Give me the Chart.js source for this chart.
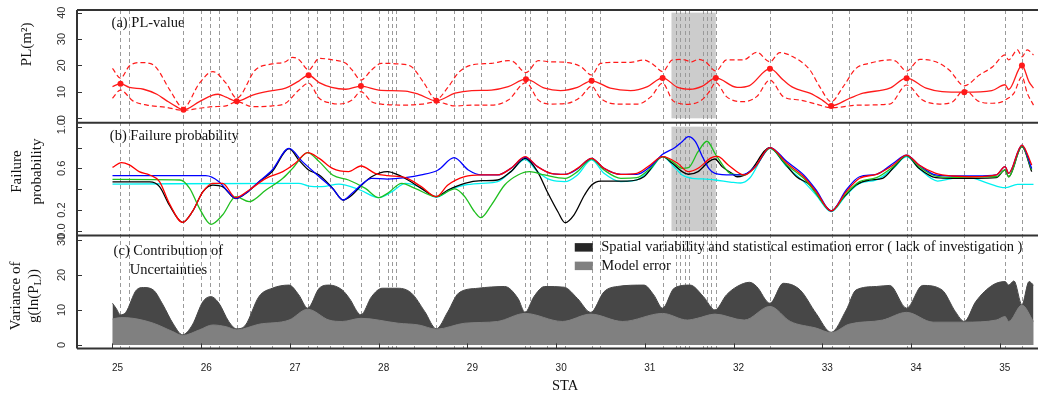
<!DOCTYPE html>
<html>
<head>
<meta charset="utf-8">
<script src="https://cdn.jsdelivr.net/npm/chart.js@4.4.0/dist/chart.umd.min.js"></script>
<style>
  html, body { margin: 0; padding: 0; background: #fff; overflow: hidden; }
  #wrap { width: 1038px; height: 397px; overflow: hidden; }
  canvas { display: block; }
</style>
</head>
<body>
<div id="wrap"><canvas id="chart" width="1057" height="397"></canvas></div>
<script>
// x tick labels (STA)
const staTicks = [25, 26, 27, 28, 29, 30, 31, 32, 33, 34, 35];

// borehole stations (vertical dashed lines) and the shaded stretch
const boreholeSta = [25.09, 25.19, 25.79, 26.00, 26.10, 26.20, 26.40, 26.55, 26.80, 27.00,
  27.20, 27.30, 27.45, 27.60, 27.80, 28.00, 28.10, 28.15, 28.20, 28.40,
  28.65, 28.85, 28.95, 29.15, 29.65, 29.70, 29.90, 30.10, 30.40, 30.50,
  31.20, 31.35, 31.40, 31.45, 31.50, 31.65, 31.70, 31.75, 31.80, 32.41,
  33.11, 33.30, 33.95, 34.00, 34.60, 35.06, 35.25];
const shadeSta = [31.30, 31.80];

// (a) PL-value
const plPointSta = [25.09, 25.80, 26.40, 27.21, 27.80, 28.65, 29.66, 30.40, 31.20, 31.80, 32.41, 33.10, 33.95, 34.60, 35.25];
const plPoint = [13.1, 3.2, 6.5, 16.3, 12.2, 6.6, 14.8, 14.2, 15.3, 15.3, 18.8, 4.7, 15.2, 9.9, 20.0];

const plMeanSta = [25.00, 25.09, 25.19, 25.35, 25.50, 25.60, 25.72, 25.80, 25.98, 26.13,
  26.19, 26.28, 26.40, 26.58, 26.80, 26.95, 27.10, 27.21, 27.33, 27.47,
  27.63, 27.80, 28.00, 28.30, 28.45, 28.65, 28.86, 29.05, 29.27, 29.46,
  29.66, 29.87, 30.05, 30.24, 30.40, 30.61, 30.84, 31.03, 31.20, 31.37,
  31.51, 31.65, 31.80, 32.04, 32.18, 32.41, 32.56, 32.67, 32.86, 33.00,
  33.10, 33.31, 33.46, 33.76, 33.95, 34.17, 34.35, 34.60, 34.91, 35.06,
  35.10, 35.25, 35.33, 35.38];
const plMean = [12.0, 13.1, 11.7, 11.0, 9.1, 6.9, 4.4, 3.2, 6.3, 8.8,
  9.1, 8.0, 6.5, 8.8, 10.5, 11.4, 14.1, 16.3, 13.5, 11.7,
  11.0, 12.2, 10.7, 10.3, 9.1, 6.6, 9.5, 10.5, 10.7, 12.0,
  14.8, 11.4, 10.5, 11.7, 14.2, 11.4, 10.5, 12.0, 15.3, 11.7,
  11.0, 12.2, 15.3, 11.7, 12.4, 18.8, 14.5, 11.7, 9.5, 6.9,
  4.7, 7.6, 9.5, 11.4, 15.2, 11.4, 10.1, 9.9, 10.5, 12.7,
  10.9, 20.0, 13.8, 11.4];

const plUpperSta = [25.00, 25.09, 25.19, 25.31, 25.42, 25.50, 25.65, 25.80, 25.98, 26.13,
  26.28, 26.40, 26.61, 26.80, 26.95, 27.03, 27.10, 27.21, 27.33, 27.48,
  27.63, 27.70, 27.80, 27.92, 28.03, 28.22, 28.37, 28.50, 28.65, 28.78,
  28.90, 29.05, 29.27, 29.46, 29.51, 29.66, 29.80, 29.94, 30.13, 30.28,
  30.40, 30.50, 30.70, 30.84, 30.99, 31.10, 31.20, 31.31, 31.42, 31.53,
  31.60, 31.68, 31.80, 31.92, 32.11, 32.26, 32.41, 32.52, 32.67, 32.86,
  32.97, 33.10, 33.23, 33.38, 33.53, 33.76, 33.83, 33.95, 34.10, 34.28,
  34.43, 34.60, 34.77, 34.92, 35.06, 35.10, 35.20, 35.25, 35.31, 35.38];
const plUpper = [18.9, 15.2, 19.8, 21.1, 20.8, 18.9, 10.5, 4.0, 13.3, 17.7,
  13.3, 7.6, 18.3, 20.6, 21.4, 23.1, 22.3, 18.3, 22.7, 22.1,
  20.8, 18.3, 14.5, 18.3, 20.8, 20.6, 19.5, 13.9, 7.2, 11.7,
  17.3, 20.2, 20.8, 21.8, 21.6, 17.3, 21.8, 21.4, 21.1, 19.5,
  16.4, 20.8, 21.2, 21.2, 22.1, 20.2, 17.7, 22.1, 22.3, 21.4,
  22.3, 21.5, 17.9, 22.1, 22.1, 25.0, 21.4, 24.9, 23.3, 18.3,
  12.0, 6.3, 11.7, 18.9, 20.8, 22.1, 21.6, 17.9, 22.3, 21.4,
  18.3, 12.3, 16.4, 19.5, 24.0, 22.1, 25.9, 23.3, 25.9, 24.0];

const plLowerSta = [25.00, 25.09, 25.23, 25.39, 25.60, 25.80, 25.98, 26.13, 26.28, 26.40,
  26.58, 26.80, 26.95, 27.10, 27.21, 27.33, 27.47, 27.55, 27.70, 27.80,
  27.92, 28.03, 28.30, 28.49, 28.65, 28.86, 29.05, 29.27, 29.46, 29.66,
  29.80, 29.94, 30.13, 30.28, 30.40, 30.50, 30.70, 30.92, 31.07, 31.20,
  31.31, 31.38, 31.49, 31.64, 31.72, 31.80, 31.92, 32.11, 32.26, 32.41,
  32.56, 32.75, 32.93, 33.10, 33.42, 33.76, 33.95, 34.13, 34.32, 34.47,
  34.60, 34.77, 34.92, 35.03, 35.06, 35.16, 35.25, 35.31, 35.38];
const plLower = [7.6, 10.7, 6.6, 5.0, 4.2, 3.0, 3.8, 4.4, 4.7, 6.3,
  4.4, 4.7, 5.7, 10.7, 13.3, 7.6, 5.7, 5.4, 6.9, 10.1,
  6.3, 5.4, 5.0, 5.4, 6.2, 4.7, 5.0, 5.0, 6.9, 13.5,
  6.9, 5.4, 5.7, 8.2, 12.2, 7.6, 5.4, 5.4, 8.2, 13.3,
  6.9, 5.7, 5.3, 6.9, 9.8, 13.5, 8.2, 6.3, 8.2, 14.5,
  8.2, 6.9, 5.4, 4.0, 5.0, 5.4, 12.6, 6.9, 5.4, 6.3,
  10.8, 6.3, 5.7, 6.3, 6.9, 9.5, 15.8, 9.5, 5.0];

// (b) Failure probability
const pfBlackSta = [25.00, 25.42, 25.53, 25.64, 25.79, 25.90, 26.02, 26.13, 26.24, 26.39,
  26.50, 26.65, 26.80, 26.99, 27.10, 27.21, 27.33, 27.48, 27.60, 27.70,
  27.81, 27.92, 28.10, 28.22, 28.33, 28.48, 28.65, 28.78, 28.97, 29.16,
  29.34, 29.49, 29.65, 29.79, 29.90, 30.02, 30.10, 30.20, 30.32, 30.40,
  30.50, 30.80, 30.99, 31.20, 31.31, 31.42, 31.49, 31.60, 31.72, 31.79,
  31.87, 31.98, 32.04, 32.18, 32.41, 32.56, 32.71, 32.86, 32.97, 33.10,
  33.23, 33.38, 33.53, 33.68, 33.83, 33.95, 34.09, 34.28, 34.47, 34.73,
  34.96, 35.06, 35.10, 35.25, 35.36];
const pfBlack = [0.47, 0.47, 0.425, 0.25, 0.083, 0.185, 0.377, 0.44, 0.425, 0.31,
  0.36, 0.47, 0.57, 0.79, 0.68, 0.585, 0.537, 0.41, 0.297, 0.345,
  0.441, 0.52, 0.569, 0.537, 0.489, 0.409, 0.329, 0.393, 0.457, 0.482,
  0.489, 0.569, 0.696, 0.569, 0.377, 0.185, 0.08, 0.153, 0.345, 0.441,
  0.479, 0.479, 0.52, 0.712, 0.649, 0.569, 0.544, 0.569, 0.665, 0.69,
  0.617, 0.553, 0.52, 0.569, 0.80, 0.665, 0.52, 0.441, 0.313, 0.192,
  0.313, 0.441, 0.489, 0.505, 0.633, 0.722, 0.601, 0.511, 0.505, 0.505,
  0.511, 0.585, 0.52, 0.808, 0.569];

const pfRedSta = [25.00, 25.10, 25.19, 25.30, 25.42, 25.53, 25.64, 25.79, 25.90, 26.02,
  26.13, 26.24, 26.39, 26.54, 26.73, 26.92, 27.06, 27.20, 27.33, 27.48,
  27.66, 27.80, 27.96, 28.10, 28.30, 28.48, 28.65, 28.78, 28.97, 29.16,
  29.34, 29.49, 29.65, 29.79, 29.94, 30.10, 30.24, 30.40, 30.54, 30.73,
  30.91, 31.06, 31.20, 31.37, 31.49, 31.60, 31.75, 31.82, 31.94, 32.12,
  32.23, 32.41, 32.60, 32.79, 32.93, 33.10, 33.27, 33.42, 33.61, 33.80,
  33.95, 34.09, 34.28, 34.47, 34.73, 34.96, 35.06, 35.10, 35.25, 35.36];
const pfRed = [0.61, 0.655, 0.633, 0.569, 0.537, 0.473, 0.265, 0.083, 0.185, 0.377,
  0.457, 0.457, 0.32, 0.393, 0.505, 0.569, 0.649, 0.751, 0.696, 0.60,
  0.569, 0.623, 0.553, 0.53, 0.511, 0.425, 0.329, 0.441, 0.521, 0.537,
  0.537, 0.60, 0.712, 0.617, 0.553, 0.543, 0.60, 0.696, 0.60, 0.543,
  0.553, 0.633, 0.712, 0.649, 0.569, 0.601, 0.703, 0.715, 0.633, 0.537,
  0.60, 0.80, 0.649, 0.52, 0.377, 0.192, 0.377, 0.505, 0.543, 0.633,
  0.728, 0.633, 0.553, 0.527, 0.52, 0.537, 0.617, 0.553, 0.824, 0.633];

const pfGreenSta = [25.00, 25.76, 25.87, 25.98, 26.11, 26.24, 26.39, 26.54, 26.73, 26.92,
  27.03, 27.20, 27.33, 27.48, 27.66, 27.85, 28.00, 28.10, 28.26, 28.41,
  28.65, 28.86, 28.97, 29.08, 29.15, 29.27, 29.42, 29.57, 29.70, 29.87,
  30.10, 30.24, 30.40, 30.54, 30.73, 30.91, 31.06, 31.20, 31.31, 31.42,
  31.49, 31.60, 31.70, 31.79, 31.89, 31.96, 32.12, 32.26, 32.41, 32.60,
  32.79, 32.93, 33.10, 33.27, 33.42, 33.61, 33.80, 33.95, 34.09, 34.28,
  34.47, 34.73, 34.96, 35.06, 35.10, 35.25, 35.36];
const pfGreen = [0.495, 0.489, 0.409, 0.217, 0.064, 0.153, 0.329, 0.281, 0.393, 0.505,
  0.60, 0.751, 0.665, 0.537, 0.489, 0.409, 0.32, 0.361, 0.457, 0.409,
  0.329, 0.403, 0.329, 0.185, 0.128, 0.249, 0.441, 0.537, 0.569, 0.537,
  0.505, 0.569, 0.69, 0.585, 0.505, 0.511, 0.60, 0.712, 0.665, 0.601,
  0.607, 0.76, 0.86, 0.745, 0.617, 0.553, 0.537, 0.633, 0.792, 0.633,
  0.505, 0.361, 0.192, 0.361, 0.473, 0.511, 0.617, 0.722, 0.617, 0.527,
  0.514, 0.52, 0.52, 0.585, 0.52, 0.808, 0.585];

const pfBlueSta = [25.00, 26.05, 26.20, 26.32, 26.39, 26.50, 26.65, 26.80, 26.99, 27.14,
  27.33, 27.48, 27.60, 27.70, 27.81, 27.92, 28.10, 28.30, 28.48, 28.67,
  28.85, 29.01, 29.16, 29.34, 29.49, 29.65, 29.79, 29.94, 30.10, 30.24,
  30.40, 30.54, 30.73, 30.91, 31.06, 31.20, 31.34, 31.42, 31.49, 31.57,
  31.64, 31.72, 31.79, 31.98, 32.12, 32.26, 32.41, 32.60, 32.79, 32.93,
  33.10, 33.27, 33.42, 33.61, 33.80, 33.95, 34.09, 34.28, 34.47, 34.73,
  34.96, 35.06, 35.10, 35.25, 35.36];
const pfBlue = [0.53, 0.53, 0.473, 0.361, 0.313, 0.361, 0.473, 0.585, 0.792, 0.665,
  0.521, 0.409, 0.297, 0.361, 0.447, 0.505, 0.498, 0.511, 0.537, 0.585,
  0.703, 0.585, 0.537, 0.537, 0.60, 0.706, 0.617, 0.553, 0.543, 0.595,
  0.696, 0.60, 0.543, 0.543, 0.617, 0.735, 0.80, 0.856, 0.904, 0.856,
  0.729, 0.601, 0.553, 0.537, 0.543, 0.633, 0.80, 0.665, 0.537, 0.393,
  0.192, 0.393, 0.52, 0.543, 0.649, 0.728, 0.633, 0.537, 0.527, 0.527,
  0.537, 0.617, 0.553, 0.824, 0.60];

const pfCyanSta = [25.00, 27.10, 27.21, 27.36, 27.55, 27.79, 28.00, 28.15, 28.30, 28.45,
  28.65, 28.82, 28.97, 29.16, 29.34, 29.49, 29.65, 29.79, 29.94, 30.10,
  30.24, 30.40, 30.54, 30.73, 30.91, 31.06, 31.20, 31.31, 31.42, 31.53,
  31.64, 31.79, 31.98, 32.08, 32.18, 32.41, 32.60, 32.79, 32.93, 33.10,
  33.27, 33.42, 33.61, 33.80, 33.95, 34.09, 34.30, 34.47, 34.65, 34.87,
  35.06, 35.20, 35.38];
const pfCyan = [0.45, 0.457, 0.431, 0.425, 0.45, 0.393, 0.32, 0.377, 0.457, 0.425,
  0.323, 0.403, 0.441, 0.457, 0.473, 0.569, 0.687, 0.569, 0.489, 0.473,
  0.537, 0.681, 0.553, 0.473, 0.489, 0.585, 0.712, 0.633, 0.537, 0.505,
  0.499, 0.489, 0.467, 0.46, 0.505, 0.792, 0.617, 0.473, 0.345, 0.185,
  0.345, 0.457, 0.489, 0.60, 0.712, 0.60, 0.479, 0.505, 0.511, 0.457,
  0.415, 0.447, 0.447];
const pfLabelValues = [0, 0.2, 0.6, 1.0];

// (c) Contribution of uncertainties
const varTotalSta = [25.00, 25.04, 25.09, 25.15, 25.27, 25.35, 25.46, 25.57, 25.68, 25.79,
  25.90, 26.02, 26.11, 26.20, 26.31, 26.40, 26.50, 26.65, 26.80, 26.99,
  27.10, 27.20, 27.33, 27.44, 27.59, 27.67, 27.80, 27.92, 28.04, 28.22,
  28.37, 28.52, 28.65, 28.78, 28.90, 29.12, 29.42, 29.57, 29.65, 29.75,
  29.87, 30.09, 30.24, 30.39, 30.54, 30.69, 30.99, 31.10, 31.20, 31.33,
  31.51, 31.66, 31.79, 31.92, 32.04, 32.18, 32.26, 32.41, 32.56, 32.75,
  32.93, 33.10, 33.27, 33.38, 33.61, 33.76, 33.95, 34.13, 34.35, 34.50,
  34.60, 34.73, 34.92, 35.06, 35.10, 35.16, 35.25, 35.33, 35.38];
const varTotal = [11.9, 10.5, 8.6, 9.3, 15.7, 16.4, 15.7, 11.4, 6.2, 2.9,
  5.7, 12.4, 13.8, 11.9, 6.7, 4.6, 5.7, 13.8, 16.2, 17.1,
  14.3, 10.5, 16.2, 17.1, 15.7, 13.3, 8.6, 13.8, 16.2, 16.2,
  14.8, 9.5, 4.6, 9.5, 14.8, 16.2, 16.7, 13.3, 9.3, 13.8,
  16.7, 16.5, 13.3, 9.3, 15.2, 16.7, 17.1, 14.3, 10.5, 16.2,
  17.1, 13.8, 10.0, 14.3, 16.7, 17.9, 16.7, 11.9, 17.6, 15.7,
  9.0, 3.6, 10.0, 15.7, 16.7, 17.0, 10.5, 17.0, 15.7, 9.5,
  6.7, 12.4, 17.1, 18.1, 17.1, 18.3, 11.5, 18.1, 17.1];

const varModelSta = [25.00, 25.09, 25.23, 25.46, 25.68, 25.79, 25.98, 26.13, 26.28, 26.40,
  26.65, 26.99, 27.20, 27.44, 27.59, 27.80, 28.22, 28.45, 28.65, 28.97,
  29.34, 29.65, 30.07, 30.39, 30.75, 31.20, 31.48, 31.59, 31.79, 32.12,
  32.41, 32.64, 32.93, 33.10, 33.30, 33.68, 33.95, 34.25, 34.60, 34.96,
  35.06, 35.10, 35.25, 35.38];
const varModel = [7.4, 7.8, 7.6, 6.2, 3.8, 2.7, 4.3, 5.7, 5.2, 4.3,
  5.9, 7.1, 10.2, 7.1, 6.7, 7.6, 6.2, 5.7, 4.5, 6.2,
  6.7, 9.0, 6.7, 8.8, 6.7, 9.0, 7.1, 7.6, 8.8, 7.1,
  11.0, 6.7, 4.8, 3.5, 5.9, 7.1, 9.3, 6.5, 6.5, 7.1,
  8.1, 6.7, 11.4, 6.7];

const RED = '#ff1a1a';
const SERIF = '"Liberation Serif", "Times New Roman", serif';
const SANS = '"Liberation Sans", Arial, sans-serif';

function pts(xs, ys) {
  return xs.map((x, i) => ({ x: x, y: ys[i] }));
}

function line(label, xs, ys, axis, color, extra) {
  return Object.assign({
    label: label,
    data: pts(xs, ys),
    xAxisID: 'x',
    yAxisID: axis,
    borderColor: color,
    backgroundColor: color,
    borderWidth: 1.3,
    pointRadius: 0,
    cubicInterpolationMode: 'monotone',
    fill: false
  }, extra || {});
}

function vtext(ctx, str, x, y) {
  ctx.save();
  ctx.translate(x, y);
  ctx.rotate(-Math.PI / 2);
  ctx.fillText(str, 0, 0);
  ctx.restore();
}

// shading, borehole lines, frame, rotated labels, annotations and legend
const decor = {
  id: 'decor',
  beforeDatasetsDraw(chart) {
    const { ctx, chartArea: a, scales } = chart;
    const x = scales.x;
    ctx.save();
    ctx.fillStyle = '#cccccc';
    const x0 = x.getPixelForValue(shadeSta[0]);
    const x1 = x.getPixelForValue(shadeSta[1]);
    [['yPL', 0, 40], ['yPF', 0, 1]].forEach(([id, lo, hi]) => {
      const s = scales[id];
      const t = s.getPixelForValue(hi), b = s.getPixelForValue(lo);
      ctx.fillRect(x0, t, x1 - x0, b - t);
    });
    ctx.strokeStyle = '#9a9a9a';
    ctx.lineWidth = 1;
    ctx.setLineDash([4, 3]);
    boreholeSta.forEach(v => {
      const px = Math.round(x.getPixelForValue(v)) + 0.5;
      ctx.beginPath();
      ctx.moveTo(px, a.top);
      ctx.lineTo(px, a.bottom);
      ctx.stroke();
    });
    ctx.restore();
  },
  afterDraw(chart) {
    const { ctx, chartArea: a, scales } = chart;
    const x = scales.x, yPL = scales.yPL, yPF = scales.yPF, yVar = scales.yVar;
    ctx.save();

    // frame
    ctx.strokeStyle = '#333';
    ctx.lineWidth = 2;
    ctx.beginPath();
    [a.top, yPF.top, yVar.top, a.bottom].forEach(y => {
      ctx.moveTo(a.left, y);
      ctx.lineTo(a.right, y);
    });
    ctx.moveTo(a.left, a.top);
    ctx.lineTo(a.left, a.bottom);
    ctx.stroke();

    // inward tick marks
    ctx.lineWidth = 1;
    ctx.beginPath();
    [yPL, yPF, yVar].forEach(s => {
      s.ticks.forEach(t => {
        const py = Math.round(s.getPixelForValue(t.value)) + 0.5;
        ctx.moveTo(a.left, py);
        ctx.lineTo(a.left + 5, py);
      });
    });
    x.ticks.forEach(t => {
      const px = Math.round(x.getPixelForValue(t.value)) + 0.5;
      ctx.moveTo(px, a.bottom);
      ctx.lineTo(px, a.bottom - 5);
    });
    ctx.stroke();

    // rotated y tick labels
    ctx.fillStyle = '#333';
    ctx.font = '11px ' + SANS;
    ctx.textAlign = 'center';
    ctx.textBaseline = 'middle';
    yPL.ticks.forEach(t => vtext(ctx, String(t.value), 62, yPL.getPixelForValue(t.value)));
    pfLabelValues.forEach(v => vtext(ctx, v.toFixed(1), 62, yPF.getPixelForValue(v)));
    yVar.ticks.forEach(t => vtext(ctx, String(t.value), 62, yVar.getPixelForValue(t.value)));

    // y titles
    ctx.fillStyle = '#111';
    ctx.font = '15px ' + SERIF;
    vtext(ctx, 'PL(m²)', 27, yPL.getPixelForValue(28));
    vtext(ctx, 'Failure', 17.5, yPF.getPixelForValue(0.57));
    vtext(ctx, 'probability', 37, yPF.getPixelForValue(0.57));
    vtext(ctx, 'Variance of', 16, yVar.getPixelForValue(14));
    // g(ln(P_L)) with subscript
    ctx.save();
    ctx.translate(34, yVar.getPixelForValue(14));
    ctx.rotate(-Math.PI / 2);
    ctx.textAlign = 'left';
    const p1 = 'g(ln(P', p2 = 'L', p3 = '))';
    ctx.font = '15px ' + SERIF;
    const w1 = ctx.measureText(p1).width, w3 = ctx.measureText(p3).width;
    ctx.font = '10.5px ' + SERIF;
    const w2 = ctx.measureText(p2).width;
    const cx = -(w1 + w2 + w3) / 2;
    ctx.font = '15px ' + SERIF;
    ctx.fillText(p1, cx, 0);
    ctx.font = '10.5px ' + SERIF;
    ctx.fillText(p2, cx + w1, 4);
    ctx.font = '15px ' + SERIF;
    ctx.fillText(p3, cx + w1 + w2, 0);
    ctx.restore();

    // panel annotations
    ctx.font = '14.5px ' + SERIF;
    ctx.textBaseline = 'middle';
    ctx.textAlign = 'left';
    ctx.fillText('(a) PL-value', x.getPixelForValue(24.99), yPL.getPixelForValue(36));
    ctx.fillText('(b) Failure probability', x.getPixelForValue(24.97), yPF.getPixelForValue(0.91));
    ctx.textAlign = 'center';
    ctx.fillText('(c) Contribution of', x.getPixelForValue(25.63), yVar.getPixelForValue(26.7));
    ctx.fillText('Uncertainties', x.getPixelForValue(25.63), yVar.getPixelForValue(21.4));

    // legend for panel (c)
    const ds = chart.data.datasets;
    const rows = [
      { color: '#262626', text: ds.find(d => d.id === 'total').label },
      { color: '#808080', text: ds.find(d => d.id === 'model').label }
    ];
    const lx = x.getPixelForValue(30.21), ly = yVar.getPixelForValue(29.1);
    ctx.textAlign = 'left';
    rows.forEach((r, i) => {
      const top = ly + i * 18.5;
      ctx.fillStyle = r.color;
      ctx.fillRect(lx, top, 18, 8.5);
      ctx.fillStyle = '#111';
      ctx.fillText(r.text, lx + 26.5, top + 4.5);
    });
    ctx.restore();
  }
};

const chart = new Chart(document.getElementById('chart'), {
  type: 'line',
  data: {
    datasets: [
      line('PL measured', plPointSta, plPoint, 'yPL', RED,
        { showLine: true, borderWidth: 0, borderColor: 'rgba(0,0,0,0)', pointRadius: 3, pointBorderWidth: 0, pointBackgroundColor: RED }),
      line('PL mean', plMeanSta, plMean, 'yPL', RED),
      line('PL upper', plUpperSta, plUpper, 'yPL', RED, { borderDash: [5, 3], borderWidth: 1.2 }),
      line('PL lower', plLowerSta, plLower, 'yPL', RED, { borderDash: [5, 3], borderWidth: 1.2 }),
      line('Pf red', pfRedSta, pfRed, 'yPF', '#ff0000'),
      line('Pf blue', pfBlueSta, pfBlue, 'yPF', '#0000ff'),
      line('Pf green', pfGreenSta, pfGreen, 'yPF', '#1fbf1f'),
      line('Pf black', pfBlackSta, pfBlack, 'yPF', '#000000'),
      line('Pf cyan', pfCyanSta, pfCyan, 'yPF', '#00f0f0'),
      line('Model error', varModelSta, varModel, 'yVar', '#808080',
        { id: 'model', fill: 'origin', borderWidth: 1 }),
      line('Spatial variability and statistical estimation error ( lack of investigation )',
        varTotalSta, varTotal, 'yVar', '#474747',
        { id: 'total', fill: 'origin', borderWidth: 1 })
    ]
  },
  options: {
    responsive: false,
    animation: false,
    events: [],
    layout: { padding: { top: 10, left: 0, right: 0, bottom: 0 } },
    plugins: { legend: { display: false }, tooltip: { enabled: false } },
    scales: {
      x: {
        type: 'linear', position: 'bottom', min: 24.6, max: 35.6,
        afterBuildTicks: s => { s.ticks = staTicks.map(v => ({ value: v })); },
        ticks: { autoSkip: false, maxRotation: 0,
          padding: 14, labelOffset: 5, color: '#222', font: { family: SANS, size: 10 } },
        grid: { display: false, drawTicks: false },
        border: { display: false },
        title: { display: true, text: 'STA', color: '#111',
          font: { family: SERIF, size: 14.5 }, padding: { top: 2, bottom: 2 } },
        afterFit: s => { s.height = 48.6; }
      },
      yVar: {
        type: 'linear', position: 'left', stack: 'panels', stackWeight: 1,
        min: -1.0, max: 31.25,
        ticks: { display: false, stepSize: 10, includeBounds: false },
        grid: { display: false }, border: { display: false },
        afterFit: s => { s.width = 77; }
      },
      yPF: {
        type: 'linear', position: 'left', stack: 'panels', stackWeight: 1,
        min: -0.044, max: 1.037,
        ticks: { display: false, stepSize: 0.2, includeBounds: false },
        grid: { display: false }, border: { display: false },
        afterFit: s => { s.width = 77; }
      },
      yPL: {
        type: 'linear', position: 'left', stack: 'panels', stackWeight: 1,
        min: -1.7, max: 41.0,
        ticks: { display: false, stepSize: 10, includeBounds: false },
        grid: { display: false }, border: { display: false },
        afterFit: s => { s.width = 77; }
      }
    }
  },
  plugins: [decor]
});
</script>
</body>
</html>
